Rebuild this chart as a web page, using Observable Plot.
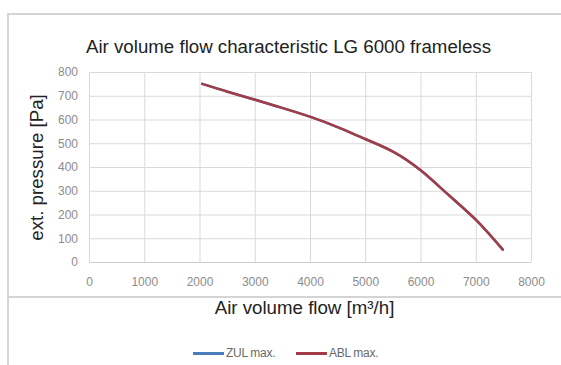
<!DOCTYPE html>
<html><head><meta charset="utf-8">
<script src="https://cdn.jsdelivr.net/npm/d3@7"></script>
<script src="https://cdn.jsdelivr.net/npm/@observablehq/plot@0.6"></script>
<style>
html,body{margin:0;padding:0;background:#fff;}
#wrap{position:relative;width:561px;height:365px;overflow:hidden;font-family:"Liberation Sans",Arial,sans-serif;}
#wrap svg{position:absolute;left:0;top:0;}
.bd{position:absolute;background:#d4d4d4;}
.lgl{position:absolute;height:2.5px;}
.lgt{position:absolute;font-size:12px;line-height:14px;color:#6a6a6a;letter-spacing:-0.3px;}
</style></head>
<body><div id="wrap"></div>
<script>
const flow = [2040, 2500, 3000, 3500, 4000, 4500, 5000, 5500, 6000, 6500, 7000, 7480];
const pressureZUL = [752, 719, 685, 650, 613, 569, 519, 466, 387, 284, 178, 54];
const pressureABL = [752, 719, 685, 650, 613, 569, 519, 466, 387, 284, 178, 54];
const series = ["ZUL max.", "ABL max."];
const colors = ["#4a7ebb", "#a33c48"];
const xTicks = [0, 1000, 2000, 3000, 4000, 5000, 6000, 7000, 8000];
const yTicks = [0, 100, 200, 300, 400, 500, 600, 700, 800];
const title = "Air volume flow characteristic LG 6000 frameless";
const xTitle = "Air volume flow [m\u00b3/h]";
const yTitle = "ext. pressure [Pa]";

const rows = [];
flow.forEach((f, i) => rows.push({s: series[0], x: f, y: pressureZUL[i]}));
flow.forEach((f, i) => rows.push({s: series[1], x: f, y: pressureABL[i]}));

const chart = Plot.plot({
  width: 561, height: 365,
  marginLeft: 89, marginRight: 30, marginTop: 72, marginBottom: 103,
  style: {fontFamily: "Liberation Sans, Arial, sans-serif", background: "transparent"},
  x: {domain: [0, 8000]},
  y: {domain: [0, 800]},
  color: {domain: series, range: colors},
  marks: [
    Plot.gridX(xTicks.filter(d => d > 0), {stroke: "#d9d9d9", strokeOpacity: 1, strokeWidth: 1}),
    Plot.gridY(yTicks.filter(d => d > 0), {stroke: "#d9d9d9", strokeOpacity: 1, strokeWidth: 1}),
    Plot.ruleY([0], {stroke: "#cfcfcf"}),
    Plot.ruleX([0], {stroke: "#d9d9d9"}),
    Plot.axisX(xTicks, {tickSize: 0, tickPadding: 14.5, fontSize: 12, fill: "#8c8c8c", label: null, tickFormat: d => String(d)}),
    Plot.axisY(yTicks, {tickSize: 0, tickPadding: 11.5, fontSize: 12, fill: "#8c8c8c", label: null, tickFormat: d => String(d)}),
    Plot.line(rows, {x: "x", y: "y", z: "s", stroke: "s", strokeWidth: 2.5, curve: "natural"}),
    Plot.text([title], {frameAnchor: "top", lineAnchor: "middle", textAnchor: "middle", dx: -22, dy: -25.5, fontSize: 18.7, fill: "#222"}),
    Plot.text([yTitle], {frameAnchor: "left", lineAnchor: "middle", textAnchor: "middle", dx: -52, rotate: -90, fontSize: 18.7, fill: "#222"}),
    Plot.text([xTitle], {frameAnchor: "bottom", lineAnchor: "middle", textAnchor: "middle", dx: -6, dy: 46, fontSize: 18.7, fill: "#222"})
  ]
});
const wrap = document.getElementById("wrap");
wrap.appendChild(chart);
["left:7px;top:13px;width:554px;height:2px", "left:7px;top:13px;width:2px;height:352px", "left:7px;top:296px;width:554px;height:2px"]
  .forEach(s => { const d = document.createElement("div"); d.className = "bd"; d.style.cssText = s; wrap.appendChild(d); });
const legendPos = [{line: 193, text: 226}, {line: 296, text: 329}];
series.forEach((s, i) => {
  const l = document.createElement("div");
  l.className = "lgl";
  l.style.cssText = `left:${legendPos[i].line}px;top:352px;width:31px;background:${colors[i]}`;
  wrap.appendChild(l);
  const t = document.createElement("div");
  t.className = "lgt";
  t.style.cssText = `left:${legendPos[i].text}px;top:346px`;
  t.textContent = s;
  wrap.appendChild(t);
});
</script></body></html>
